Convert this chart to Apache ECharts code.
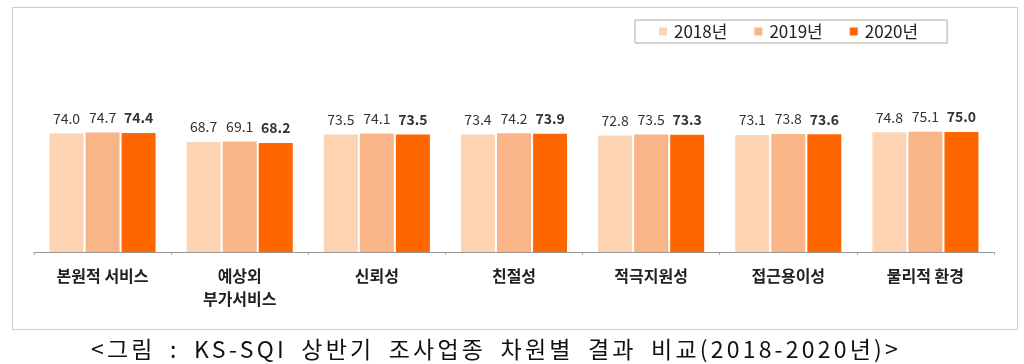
<!DOCTYPE html>
<html><head><meta charset="utf-8">
<script src="https://cdn.jsdelivr.net/npm/echarts@6/dist/echarts.min.js"></script>
<style>
html,body{margin:0;padding:0;background:#fff}
#wrap{position:relative;width:1024px;height:364px}
#c{width:1024px;height:364px}
#cap{position:absolute;left:0;top:334px;width:992px;text-align:center;font-family:"Noto Sans CJK KR","Noto Sans",sans-serif;font-size:23px;line-height:28px;letter-spacing:3.2px;word-spacing:6px;color:#111;white-space:nowrap}
</style>
</head><body><div id="wrap"><div id="c"></div><div id="cap"></div></div>
<script>
const categories = ['본원적 서비스', '예상외\n부가서비스', '신뢰성', '친절성', '적극지원성', '접근용이성', '물리적 환경'];
const seriesNames = ['2018년', '2019년', '2020년'];
const v2018 = [74.0, 68.7, 73.5, 73.4, 72.8, 73.1, 74.8];
const v2019 = [74.7, 69.1, 74.1, 74.2, 73.5, 73.8, 75.1];
const v2020 = [74.4, 68.2, 73.5, 73.9, 73.3, 73.6, 75.0];
const caption = '<그림 : KS-SQI 상반기 조사업종 차원별 결과 비교(2018-2020년)>';

document.getElementById('cap').textContent = caption;

const colors = ['#FCD4B4', '#F9B487', '#FF6600'];
const values = [v2018, v2019, v2020];
const font = '"Noto Sans CJK KR", "Noto Sans", sans-serif';

const chart = echarts.init(document.getElementById('c'), null, {renderer: 'canvas'});
chart.setOption({
  animation: false,
  backgroundColor: 'transparent',
  color: colors,
  legend: {
    left: 635, top: 20,
    itemWidth: 8, itemHeight: 8, itemGap: 27,
    icon: 'rect',
    borderColor: '#aaa', borderWidth: 1, padding: [3, 29, 3, 24],
    textStyle: {fontFamily: font, fontSize: 17, color: '#222', padding: [0, 0, 0, 2]},
    data: seriesNames
  },
  grid: {left: 34, right: 30, top: 92, bottom: 112, containLabel: false},
  xAxis: {
    type: 'category', data: categories,
    axisLine: {lineStyle: {color: '#999'}},
    axisTick: {show: true, length: 3, lineStyle: {color: '#aaa'}},
    axisLabel: {fontFamily: font, fontSize: 16, fontWeight: 'bold', color: '#222', margin: 12, lineHeight: 23}
  },
  yAxis: {type: 'value', min: 0, max: 100, show: false, splitLine: {show: false}},
  series: values.map((v, i) => ({
    name: seriesNames[i], type: 'bar', data: v,
    barWidth: 34, barGap: '6%',
    itemStyle: {color: colors[i]},
    label: {
      show: true, position: 'top', distance: 8,
      formatter: p => p.value.toFixed(1),
      fontFamily: font, fontSize: 14, color: '#333',
      fontWeight: i === 2 ? 'bold' : 'normal'
    }
  })),
  graphic: [
    {type: 'rect', shape: {x: 12.5, y: 7.5, width: 1005, height: 322}, style: {fill: 'none', stroke: '#ccc', lineWidth: 1}, z: -1}
  ]
});
</script></body></html>
